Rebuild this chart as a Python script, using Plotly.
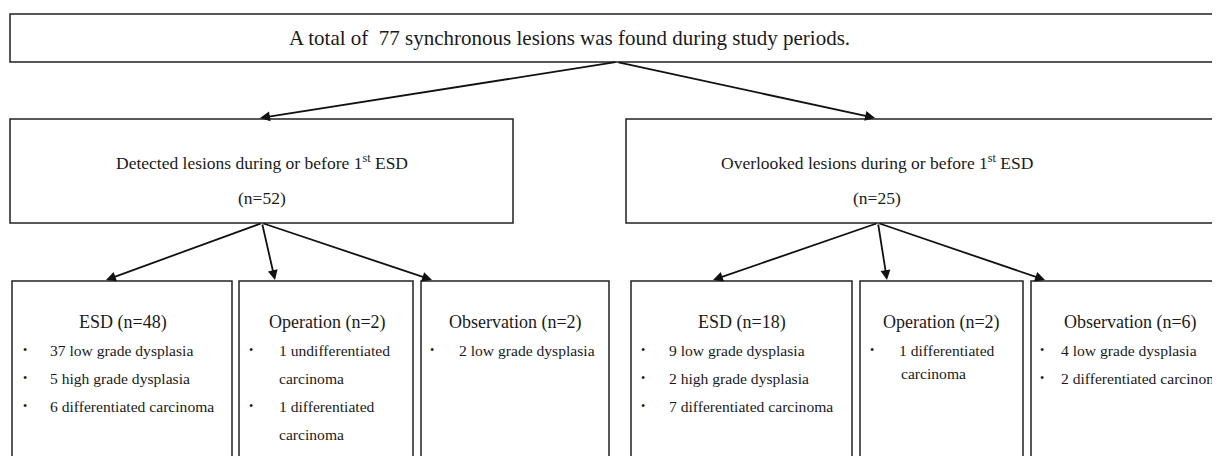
import plotly.graph_objects as go

# ---------------- data ----------------
top_label = "A total of  77 synchronous lesions was found during study periods."
group_labels = ["Detected lesions during or before 1<sup>st</sup> ESD",
                "Overlooked lesions during or before 1<sup>st</sup> ESD"]
group_counts = [52, 25]
treatments = ["ESD", "Operation", "Observation"]
detected_counts = [48, 2, 2]
overlooked_counts = [18, 2, 6]
detected_items = [
    [["37 low grade dysplasia"], ["5 high grade dysplasia"], ["6 differentiated carcinoma"]],
    [["1 undifferentiated", "carcinoma"], ["1 differentiated", "carcinoma"]],
    [["2 low grade dysplasia"]],
]
overlooked_items = [
    [["9 low grade dysplasia"], ["2 high grade dysplasia"], ["7 differentiated carcinoma"]],
    [["1 differentiated", "carcinoma"]],
    [["4 low grade dysplasia"], ["2 differentiated carcinoma"]],
]

# ---------------- layout geometry (pixels, page coordinates) ----------------
W, H = 1220, 456
PAGE_OFF = 8  # default body margin of the html page
FONT = "Liberation Serif, Times New Roman, serif"
TXT = "#1a1a1a"
LINE = "#222222"

top_box = (10, 14, 1232, 62)
top_text = (569, 38)
mid_boxes = [(10, 119, 513, 223), (626, 119, 1232, 223)]
mid_centers = [262, 877]
bot_boxes = [
    [(12, 281, 232, 470), (239, 281, 413, 470), (421, 281, 609, 470)],
    [(631, 281, 852, 470), (860, 281, 1023, 470), (1031, 281, 1232, 470)],
]
title_cx = [[123, 327, 515], [742, 941, 1130]]
bullet_x = [[25, 251, 432], [643, 872, 1042]]
text_x = [[48, 277, 457], [667, 897, 1059]]
cont_gap = [[28, 28, 28], [28, 23, 28]]
arrow_src_top = (617, 62)
arrow_dst_mid = [(260, 118), (875, 118)]
arrow_src_mid = [(262, 223), (878, 223)]
arrow_dst_bot = [[(106, 280), (275, 280), (432, 280)],
                 [(713, 280), (887, 280), (1045, 280)]]

fig = go.Figure()
shapes = []
ann = []


def box(b):
    shapes.append(dict(type="rect", xref="x", yref="y", x0=b[0], y0=b[1], x1=b[2], y1=b[3],
                       line=dict(color=LINE, width=1.5), fillcolor="rgba(0,0,0,0)"))


def text(x, y, s, size, anchor="center"):
    ann.append(dict(x=x, y=y, xref="x", yref="y", text=s, showarrow=False,
                    xanchor=anchor, yanchor="middle",
                    font=dict(family=FONT, size=size, color=TXT)))


def arrow(src, dst):
    ann.append(dict(x=dst[0], y=dst[1], ax=src[0], ay=src[1], xref="x", yref="y",
                    axref="x", ayref="y", text="", showarrow=True, arrowhead=2,
                    arrowsize=1.1, arrowwidth=1.8, arrowcolor="#111111", standoff=0))


box(top_box)
text(*top_text, top_label, 21)

for g in range(2):
    box(mid_boxes[g])
    text(mid_centers[g], 162, group_labels[g], 17.5)
    text(mid_centers[g], 198, f"(n={group_counts[g]})", 17.5)
    arrow(arrow_src_top, arrow_dst_mid[g])
    counts = detected_counts if g == 0 else overlooked_counts
    items = detected_items if g == 0 else overlooked_items
    for t in range(3):
        box(bot_boxes[g][t])
        arrow(arrow_src_mid[g], arrow_dst_bot[g][t])
        text(title_cx[g][t], 322, f"{treatments[t]} (n={counts[t]})", 18)
        y = 350
        for it in items[t]:
            text(bullet_x[g][t], y, "•", 12)
            for k, ln in enumerate(it):
                xx = text_x[g][t] + (2 if k > 0 and g == 1 and t == 1 else 0)
                text(xx, y, ln, 15.6, anchor="left")
                y += cont_gap[g][t] if k < len(it) - 1 else 28

fig.update_layout(
    width=W - PAGE_OFF, height=H - PAGE_OFF, margin=dict(l=0, r=0, t=0, b=0),
    plot_bgcolor="white", paper_bgcolor="white",
    xaxis=dict(range=[PAGE_OFF, W], visible=False, fixedrange=True),
    yaxis=dict(range=[H, PAGE_OFF], visible=False, fixedrange=True),
    shapes=shapes, annotations=ann, showlegend=False,
)
fig.write_html("out.html")
